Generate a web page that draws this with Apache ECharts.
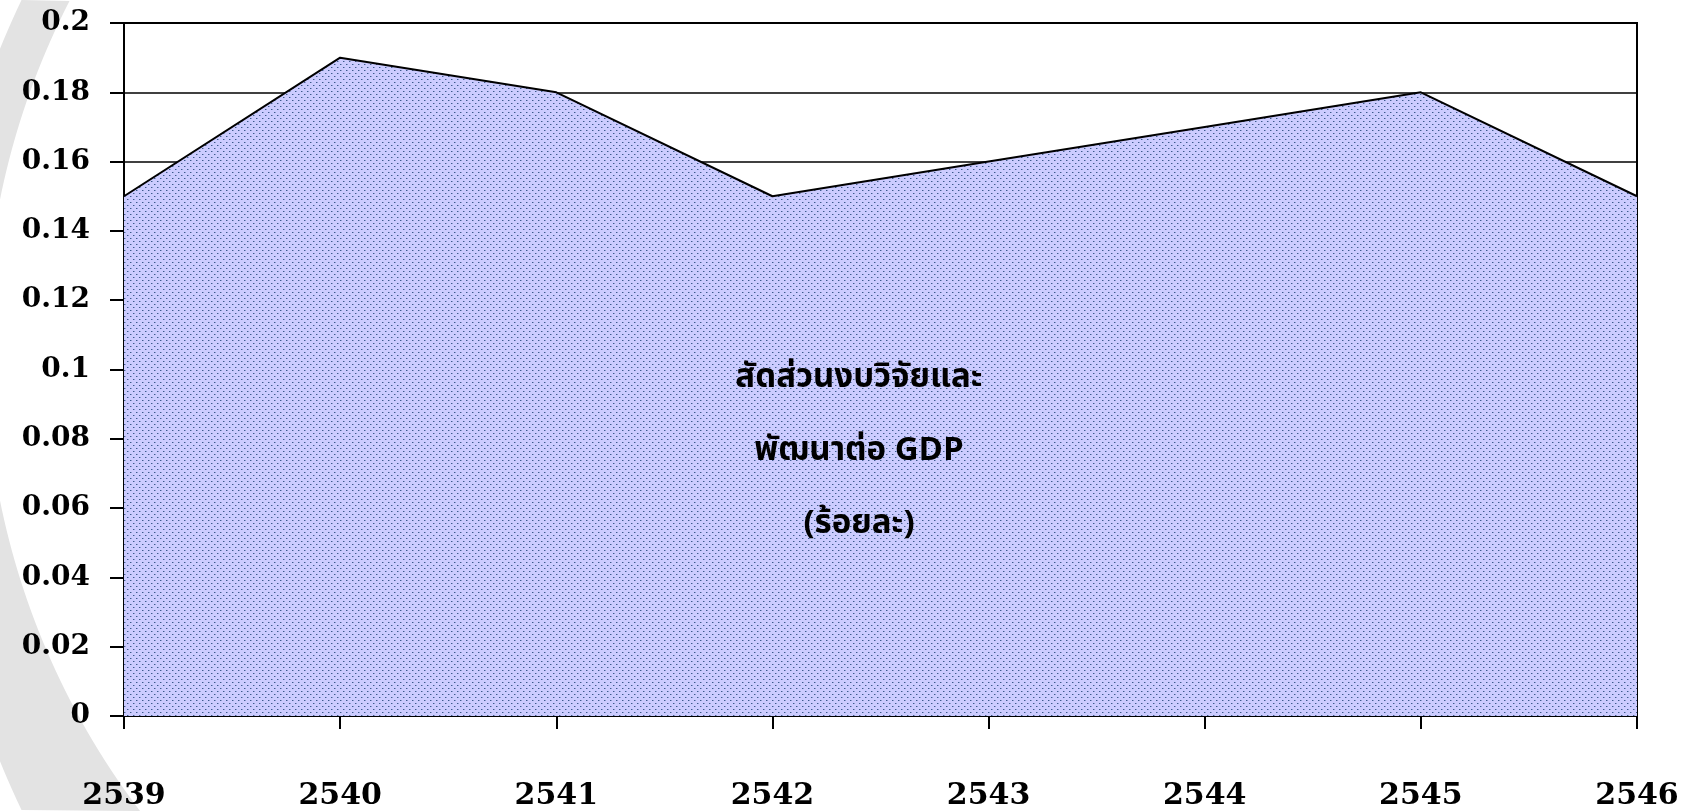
<!DOCTYPE html>
<html>
<head>
<meta charset="utf-8">
<script src="https://cdn.jsdelivr.net/npm/echarts@6/dist/echarts.min.js"></script>
<style>
  html, body { margin: 0; padding: 0; background: #fff; }
  #main { width: 1695px; height: 811px; }
</style>
</head>
<body>
<div id="main"></div>
<script>
// ปี พ.ศ.
const years = ['2539', '2540', '2541', '2542', '2543', '2544', '2545', '2546'];
// สัดส่วนงบวิจัยฯ ต่อ GDP (ร้อยละ)
const ratio = [0.15, 0.19, 0.18, 0.15, 0.16, 0.17, 0.18, 0.15];
const centerLines = ['สัดส่วนงบวิจัยและ', 'พัฒนาต่อ GDP', '(ร้อยละ)'];

const numFont = 'DejaVu Serif';
const thaiFont = '"Noto Sans Thai", "Noto Sans", "DejaVu Sans", sans-serif';

// dotted fill like the old office pattern
function makeDots() {
  let c = document.createElement('canvas');
  c.width = 6;
  c.height = 6;
  let ctx = c.getContext('2d');
  ctx.fillStyle = '#ccccff';
  ctx.fillRect(0, 0, 6, 6);
  ctx.fillStyle = '#3d5a8e';
  ctx.fillRect(1, 1, 1, 1);
  ctx.fillRect(4, 4, 1, 1);
  ctx.fillStyle = '#8c9ccc';
  ctx.fillRect(2, 1, 1, 1);
  ctx.fillRect(5, 4, 1, 1);
  return c;
}

// grey crescent on the left (background decoration only)
function swoosh() {
  let pts = [];
  // outer edge, top to bottom
  for (let y = 0; y <= 811; y += 10) {
    pts.push([872 - Math.sqrt(942 * 942 - (y - 405) * (y - 405)), y]);
  }
  // inner edge, bottom to top
  for (let y = 811; y >= 0; y -= 10) {
    pts.push([748 - Math.sqrt(763 * 763 - (y - 350) * (y - 350)), y]);
  }
  return pts;
}

let chart = echarts.init(document.getElementById('main'));

let option = {
  backgroundColor: '#ffffff',
  animation: false,
  grid: {
    left: 124,
    right: 58,
    top: 23,
    bottom: 95,
    show: true,
    backgroundColor: '#ffffff',
    borderColor: '#000',
    borderWidth: 2
  },
  graphic: [
    {
      type: 'polygon',
      z: -10,
      shape: { points: swoosh() },
      style: { fill: '#e3e3e3' }
    },
    {
      type: 'text',
      z: 100,
      x: 859,
      y: 453,
      style: {
        text: centerLines.join('\n'),
        font: 'bold 33px ' + thaiFont,
        lineHeight: 73,
        fill: '#000',
        align: 'center',
        verticalAlign: 'middle'
      }
    }
  ],
  xAxis: {
    type: 'category',
    data: years,
    boundaryGap: false,
    axisLine: { lineStyle: { color: '#000', width: 2 } },
    axisTick: { show: true, length: 13, lineStyle: { color: '#000', width: 2 } },
    axisLabel: {
      margin: 65,
      color: '#000',
      fontFamily: numFont,
      fontWeight: 'bold',
      fontSize: 30
    },
    splitLine: { show: false }
  },
  yAxis: {
    type: 'value',
    min: 0,
    max: 0.2,
    interval: 0.02,
    axisLine: { show: true, lineStyle: { color: '#000', width: 2 } },
    axisTick: { show: true, length: 14, lineStyle: { color: '#000', width: 2 } },
    axisLabel: {
      margin: 34,
      color: '#000',
      fontFamily: numFont,
      fontWeight: 'bold',
      fontSize: 28
    },
    splitLine: { show: true, lineStyle: { color: '#000', width: 1.5 } }
  },
  series: [
    {
      type: 'line',
      data: ratio,
      showSymbol: false,
      symbol: 'none',
      lineStyle: { color: '#000', width: 2 },
      areaStyle: {
        color: { image: makeDots(), repeat: 'repeat' },
        opacity: 1
      }
    }
  ]
};

chart.setOption(option);
</script>
</body>
</html>
